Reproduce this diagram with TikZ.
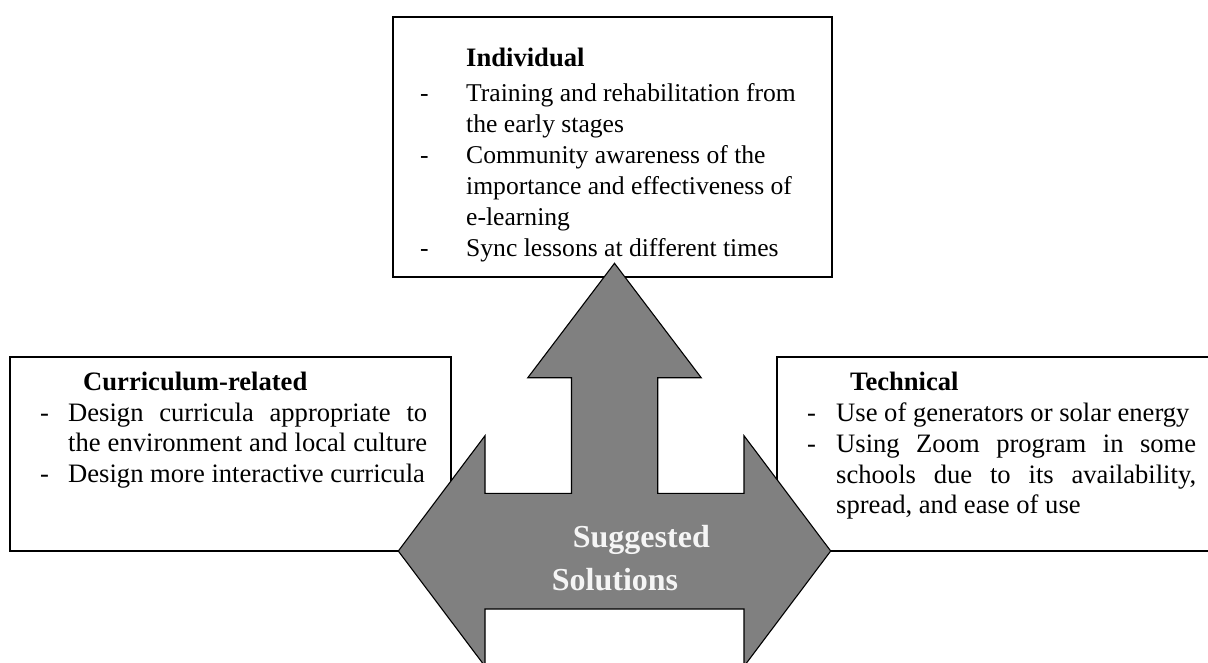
\documentclass[tikz,border=0pt]{standalone}
\usepackage{fontspec}
\setmainfont{Liberation Serif}
\definecolor{arrowgray}{RGB}{128,128,128}
\definecolor{softwhite}{RGB}{245,245,245}
\begin{document}
\begin{tikzpicture}[x=1pt,y=-1pt,
  box/.style={draw=black,line width=1.2pt,fill=white},
  txt/.style={anchor=base west,inner sep=0pt,font=\fontsize{26.6}{30}\selectfont},
  toptxt/.style={anchor=base west,inner sep=0pt,font=\fontsize{25.6}{30}\selectfont},
  head/.style={txt,font=\fontsize{26.6}{30}\selectfont\bfseries},
  ttl/.style={anchor=base west,inner sep=0pt,text=softwhite,font=\fontsize{32}{38}\selectfont\bfseries}
]
\useasboundingbox (0,0) rectangle (1208,662);
\clip (0,0) rectangle (1208,662);

% boxes
\draw[box] (393,17) rectangle (832,277);
\draw[box] (10,357) rectangle (451,551);
\draw[box] (777,357) rectangle (1240,551);

% top box text
\node[head] (ih) at (466,66) {Individual};
\node[toptxt] (id1) at (420,101) {-};
\node[toptxt] (i1) at (466,101) {Training and rehabilitation from};
\node[toptxt] (i2) at (466,132) {the early stages};
\node[toptxt] (id2) at (420,163) {-};
\node[toptxt] (i3) at (466,163) {Community awareness of the};
\node[toptxt] (i4) at (466,194) {importance and effectiveness of};
\node[toptxt] (i5) at (466,225) {e-learning};
\node[toptxt] (id3) at (420,256) {-};
\node[toptxt] (i6) at (466,256) {Sync lessons at different times};

% left box text
\node[head] (ch) at (83,390) {Curriculum-related};
\node[txt] (cd1) at (40,421) {-};
\node[txt] (c1) at (68,421) {\makebox[359pt][s]{Design curricula appropriate to}};
\node[txt] (c2) at (68,451.5) {\makebox[359pt][s]{the environment and local culture}};
\node[txt] (cd2) at (40,482) {-};
\node[txt] (c3) at (68,482) {Design more interactive curricula};

% right box text
\node[head] (th) at (850,390) {Technical};
\node[txt] (td1) at (807,421) {-};
\node[txt] (r1) at (836,421) {Use of generators or solar energy};
\node[txt] (td2) at (807,452) {-};
\node[txt] (r2) at (836,452) {\makebox[360pt][s]{Using Zoom program in some}};
\node[txt] (r3) at (836,483) {\makebox[360pt][s]{schools due to its availability,}};
\node[txt] (r4) at (836,513) {spread, and ease of use};

% arrow
\draw[line width=1.1pt,fill=arrowgray,line join=miter]
  (614.5,263.3) -- (701.2,377.7) -- (657.7,377.7) -- (657.7,493.3)
  -- (744,493.3) -- (744,435.7) -- (830.7,551) -- (744,666.3)
  -- (744,609) -- (485,609) -- (485,666.3) -- (398.3,551)
  -- (485,435.7) -- (485,493.3) -- (571.5,493.3) -- (571.5,377.7)
  -- (527.8,377.7) -- cycle;

\node[ttl] (s1) at (572.7,547.7) {Suggested};
\node[ttl] (s2) at (551.7,590.7) {Solutions};
\end{tikzpicture}
\end{document}
